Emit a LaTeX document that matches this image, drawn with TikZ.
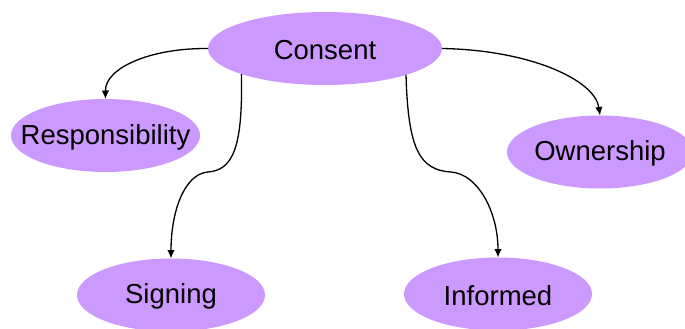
\documentclass[tikz,border=0pt]{standalone}
\usepackage{fontspec}
\setmainfont{Liberation Sans}
\usetikzlibrary{shapes.geometric,arrows.meta}
\definecolor{lilac}{RGB}{204,153,255}
\begin{document}
\begin{tikzpicture}[x=1pt,y=-1pt,
  topic/.style={ellipse,fill=lilac,draw=none,inner sep=0pt,outer sep=0pt,
    minimum height=73pt,
    label={[font=\fontsize{27.5}{30}\selectfont,inner sep=0pt,
      anchor=base,yshift=-1.5pt]center:#1}},
  link/.style={draw=black,line width=1.3pt,-{Latex[length=8.5pt,width=7.5pt]}}]
  \useasboundingbox (0,0) rectangle (685,329);
  % topics (empty ellipses, the word sits in a centred label)
  \node[topic=Consent,minimum width=234pt] (consent) at (325,48.5) {};
  \node[topic=Responsibility,minimum width=189pt] (resp) at (105.5,135.5) {};
  \node[topic=Ownership,minimum width=186pt] (own) at (600,152) {};
  \node[topic=Signing,minimum width=188pt] (sign) at (171,295) {};
  \node[topic=Informed,minimum width=188pt] (inf) at (498,294) {};
  % bend points of the long links
  \coordinate (kl) at (208,172);
  \coordinate (kr) at (451,172);
  % links
  \draw[link] (consent.west) .. controls (150,48) and (105,68) .. (resp.north);
  \draw[link] (consent.east) .. controls (530,50) and (595,80) .. (own.north);
  \draw[link] (consent.197.6) .. controls (243,150) and (232,170) .. (kl)
    .. controls (184,174) and (171,212) .. (sign.north);
  \draw[link] (consent.342.6) .. controls (408,150) and (420,170) .. (kr)
    .. controls (478,174) and (498,212) .. (inf.north);
\end{tikzpicture}
\end{document}
